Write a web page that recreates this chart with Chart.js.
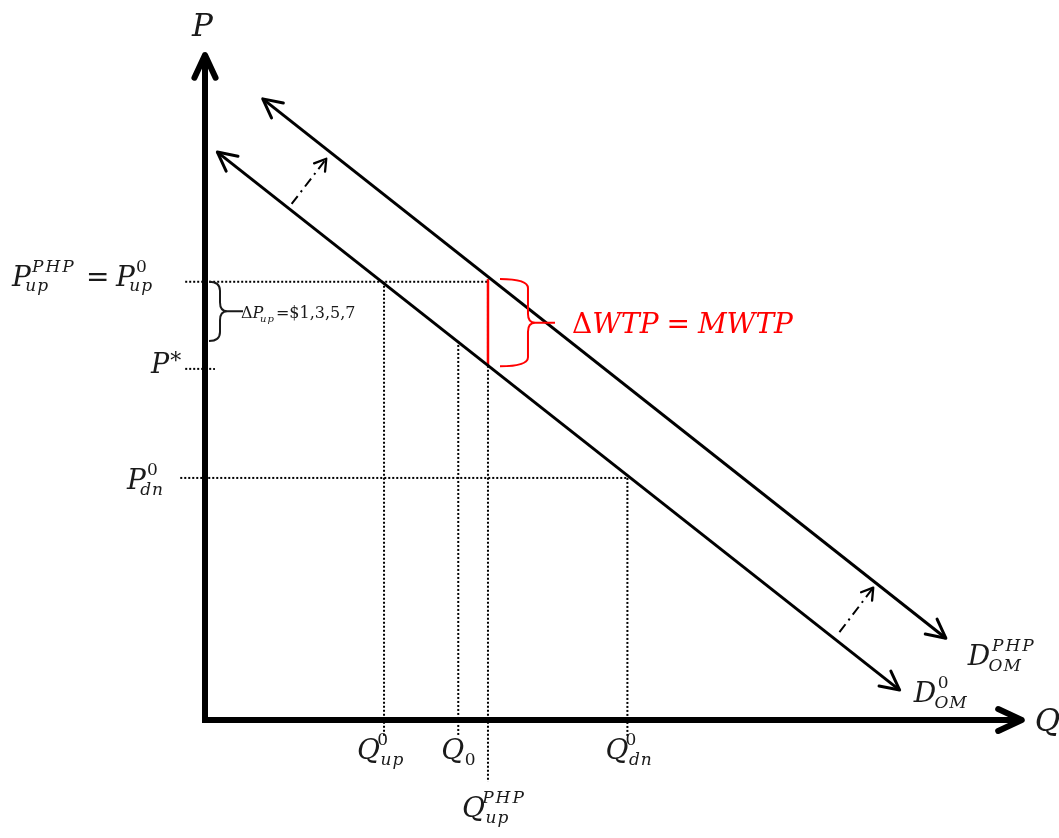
<!DOCTYPE html>
<html>
<head>
<meta charset="utf-8">
<script src="https://cdn.jsdelivr.net/npm/chart.js@4/dist/chart.umd.min.js"></script>
<style>
  html, body { margin: 0; padding: 0; background: #ffffff; }
  #c { display: block; }
</style>
</head>
<body>
<canvas id="c" width="1059" height="838"></canvas>
<script>
// ---- Model values (quantity Q on x, price P on y, both on a 0–100 scale) ----
const qLevelNames = ['Qup0', 'Q0', 'QupPHP', 'Qdn0'];
const qLevels     = [21.7, 30.7, 34.3, 51.2];
const pLevelNames = ['PupPHP', 'Pstar', 'Pdn0'];
const pLevels     = [65.9, 52.8, 36.4];

// Demand curves: both arrow-tipped ends
const demand0Q   = [1.5, 84.2];
const demand0P   = [85.4, 4.5];
const demandPHPQ = [7.0, 89.8];
const demandPHPP = [93.4, 12.3];

// Demand on D0 at Q0, and both curves at Q_up^PHP (the WTP gap)
const pOnD0AtQ0      = 57.0;
const pOnD0AtQupPHP  = 53.2;
const pOnPHPAtQupPHP = 66.3;

// Outward-shift arrows (tail -> head)
const shiftUpperQ = [10.5, 14.7];
const shiftUpperP = [77.6, 84.4];
const shiftLowerQ = [76.9, 81.0];
const shiftLowerP = [13.2, 19.9];

// Guide line extents
const qGuideTops    = [pLevels[0], pOnD0AtQ0, pLevels[0], pLevels[2]];
const qGuideBottoms = [-2.6, -2.3, -9.3, -2.6];
const pGuideStarts  = [-2.4, -2.4, -3.0];
const pGuideEnds    = [qLevels[2], 1.2, qLevels[3]];

const BLACK = '#000000';
const INK = '#1a1a1a';
const RED = '#ff0000';
const SERIF = '"DejaVu Serif", serif';

function seg(x0, y0, x1, y1) { return [{ x: x0, y: y0 }, { x: x1, y: y1 }]; }

const datasets = [];

// axes
datasets.push({ data: seg(0, -0.45, 0, 100), borderColor: BLACK, borderWidth: 6, heads: ['end'], headLen: 25, headAng: 25 });
datasets.push({ data: seg(-0.3, 0, 99.0, 0), borderColor: BLACK, borderWidth: 6, heads: ['end'], headLen: 26, headAng: 25 });

// demand curves
datasets.push({ data: seg(demand0Q[0], demand0P[0], demand0Q[1], demand0P[1]), borderColor: BLACK, borderWidth: 3, heads: ['start', 'end'], headLen: 21, headAng: 27 });
datasets.push({ data: seg(demandPHPQ[0], demandPHPP[0], demandPHPQ[1], demandPHPP[1]), borderColor: BLACK, borderWidth: 3, heads: ['start', 'end'], headLen: 21, headAng: 27 });

// WTP gap
datasets.push({ data: seg(qLevels[2], pOnD0AtQupPHP, qLevels[2], pOnPHPAtQupPHP), borderColor: RED, borderWidth: 2.5 });

// shift arrows (dash-dot)
datasets.push({ data: seg(shiftUpperQ[0], shiftUpperP[0], shiftUpperQ[1], shiftUpperP[1]), borderColor: BLACK, borderWidth: 2, borderDash: [10, 5, 2, 5], heads: ['end'], headLen: 13, headAng: 32 });
datasets.push({ data: seg(shiftLowerQ[0], shiftLowerP[0], shiftLowerQ[1], shiftLowerP[1]), borderColor: BLACK, borderWidth: 2, borderDash: [10, 5, 2, 5], heads: ['end'], headLen: 13, headAng: 32 });

// dotted guides
qLevels.forEach((q, i) => {
  datasets.push({ data: seg(q, qGuideTops[i], q, qGuideBottoms[i]), borderColor: BLACK, borderWidth: 2, borderDash: [2, 2] });
});
pLevels.forEach((p, i) => {
  datasets.push({ data: seg(pGuideStarts[i], p, pGuideEnds[i], p), borderColor: BLACK, borderWidth: 2, borderDash: [2, 2] });
});

datasets.forEach(d => {
  d.showLine = true;
  d.pointRadius = 0;
  d.clip = false;
  d.fill = false;
  d.tension = 0;
});

// ---- text helpers ----
function txt(ctx, s, x, y, size, italic, spacing) {
  ctx.font = (italic ? 'italic ' : '') + size + 'px ' + SERIF;
  ctx.letterSpacing = (spacing || 0) + 'px';
  ctx.fillText(s, x, y);
  const w = ctx.measureText(s).width;
  ctx.letterSpacing = '0px';
  return w;
}
// script offsets after an italic base letter: [subscript shift, superscript shift] in em
const scriptKern = { P: [-0.2, 0.04], Q: [0.02, -0.1], D: [-0.06, 0.06] };

// italic symbol with optional superscript / subscript; returns x after it
function sym(ctx, x, y, S, base, sup, sub) {
  const w = txt(ctx, base, x, y, S, true);
  const cx = x + w;
  const s = Math.round(S * 0.62);
  const kern = scriptKern[base] || [0, 0];
  let ws = 0, wb = 0;
  if (sup) {
    if (sup === '*') {
      ws = txt(ctx, '*', cx + 1, y - S * 0.18, Math.round(S * 0.8), false) + 1;
    } else {
      const upright = /^[0-9]+$/.test(sup);
      const k = kern[1] * S;
      ws = txt(ctx, sup, cx + k, y - S * 0.5, s, !upright, upright ? 0 : 2) + k;
    }
  }
  if (sub) {
    const upright = /^[0-9]+$/.test(sub);
    const k = kern[0] * S;
    wb = txt(ctx, sub, cx + k, y + S * 0.2, s, !upright, upright ? 0 : 1) + k;
  }
  return cx + Math.max(ws, wb, 0);
}

function brace(ctx, x, y1, y2, d, tip) {
  const ym = (y1 + y2) / 2;
  const r = Math.min(9, (y2 - y1) / 6);
  ctx.beginPath();
  ctx.moveTo(x, y1);
  ctx.quadraticCurveTo(x + d, y1, x + d, y1 + r);
  ctx.lineTo(x + d, ym - r);
  ctx.quadraticCurveTo(x + d, ym, x + d + r * 0.8, ym);
  ctx.lineTo(x + d + tip, ym);
  ctx.moveTo(x + d + r * 0.8, ym);
  ctx.quadraticCurveTo(x + d, ym, x + d, ym + r);
  ctx.lineTo(x + d, y2 - r);
  ctx.quadraticCurveTo(x + d, y2, x, y2);
  ctx.stroke();
}

const diagramDecor = {
  id: 'diagramDecor',
  afterDatasetsDraw(chart) {
    const ctx = chart.ctx;
    const xs = chart.scales.x, ys = chart.scales.y;
    const X = v => xs.getPixelForValue(v);
    const Y = v => ys.getPixelForValue(v);

    // open arrowheads
    chart.data.datasets.forEach(ds => {
      if (!ds.heads) return;
      const pts = ds.data;
      ds.heads.forEach(which => {
        const a = which === 'end' ? pts[pts.length - 1] : pts[0];
        const b = which === 'end' ? pts[pts.length - 2] : pts[1];
        const tx = X(a.x), ty = Y(a.y);
        const ang = Math.atan2(Y(b.y) - ty, X(b.x) - tx);
        const da = ds.headAng * Math.PI / 180;
        ctx.save();
        ctx.strokeStyle = ds.borderColor;
        ctx.lineWidth = ds.borderWidth + (ds.borderWidth < 3 ? 0.3 : 0);
        ctx.lineCap = 'round';
        ctx.lineJoin = 'round';
        ctx.setLineDash([]);
        ctx.beginPath();
        ctx.moveTo(tx + ds.headLen * Math.cos(ang - da), ty + ds.headLen * Math.sin(ang - da));
        ctx.lineTo(tx, ty);
        ctx.lineTo(tx + ds.headLen * Math.cos(ang + da), ty + ds.headLen * Math.sin(ang + da));
        ctx.stroke();
        ctx.restore();
      });
    });

    ctx.save();
    ctx.textBaseline = 'alphabetic';
    ctx.textAlign = 'left';
    ctx.fillStyle = INK;

    const x0 = X(0), y0 = Y(0);
    const S = 28;

    // axis titles
    txt(ctx, 'P', x0 - 13, Y(100) - 19, 31, true);
    txt(ctx, 'Q', X(99.0) + 13, y0 + 11, 31, true);

    // price labels
    sym(ctx, 12, Y(pLevels[0]) + 4, S, 'P', 'PHP', 'up');
    txt(ctx, '=', 86, Y(pLevels[0]) + 4, S, false);
    sym(ctx, 116, Y(pLevels[0]) + 4, S, 'P', '0', 'up');
    sym(ctx, 151, Y(pLevels[1]) + 4, S - 1, 'P', '*', null);
    sym(ctx, 127, Y(pLevels[2]) + 11, S, 'P', '0', 'dn');

    // quantity labels
    sym(ctx, X(qLevels[0]) - 27, y0 + 39, S, 'Q', '0', 'up');
    sym(ctx, X(qLevels[1]) - 17, y0 + 39, S, 'Q', null, '0');
    sym(ctx, X(qLevels[2]) - 26, y0 + 97, S, 'Q', 'PHP', 'up');
    sym(ctx, X(qLevels[3]) - 22, y0 + 39, S, 'Q', '0', 'dn');

    // curve labels
    sym(ctx, X(demandPHPQ[1]) + 22, Y(demandPHPP[1]) + 27, S, 'D', 'PHP', 'OM');
    sym(ctx, X(demand0Q[1]) + 14, Y(demand0P[1]) + 12, S, 'D', '0', 'OM');

    // ΔP_up brace and note
    ctx.strokeStyle = INK;
    ctx.lineWidth = 2;
    ctx.setLineDash([]);
    ctx.lineCap = 'butt';
    brace(ctx, x0 + 4, Y(pLevels[0]), Y(pOnD0AtQ0), 11, 23);
    let nx = X(0) + 36;
    const ny = (Y(pLevels[0]) + Y(pOnD0AtQ0)) / 2 + 7;
    nx += txt(ctx, 'Δ', nx, ny, 16, false);
    nx = sym(ctx, nx, ny, 16, 'P', null, 'up');
    txt(ctx, '=$1,3,5,7', nx + 1, ny, 16, false);

    // WTP brace and label
    ctx.strokeStyle = RED;
    ctx.fillStyle = RED;
    ctx.lineWidth = 2;
    const bx = X(qLevels[2]) + 12;
    brace(ctx, bx, Y(pOnPHPAtQupPHP), Y(pOnD0AtQupPHP), 28, 27);
    let wx = bx + 72;
    const wy = (Y(pOnPHPAtQupPHP) + Y(pOnD0AtQupPHP)) / 2 + 10;
    wx += txt(ctx, 'Δ', wx, wy, S, false);
    wx += txt(ctx, 'WTP', wx, wy, S, true);
    wx += 8;
    wx += txt(ctx, '=', wx, wy, S, false);
    wx += 8;
    txt(ctx, 'MWTP', wx, wy, S, true);

    ctx.restore();
  }
};

new Chart(document.getElementById('c'), {
  type: 'scatter',
  data: { datasets },
  options: {
    responsive: false,
    animation: false,
    devicePixelRatio: 1,
    layout: { padding: { left: 205, right: 29, top: 55, bottom: 118 } },
    scales: {
      x: { type: 'linear', min: 0, max: 100, display: false },
      y: { type: 'linear', min: 0, max: 100, display: false }
    },
    plugins: { legend: { display: false }, tooltip: { enabled: false } },
    events: []
  },
  plugins: [diagramDecor]
});
</script>
</body>
</html>
